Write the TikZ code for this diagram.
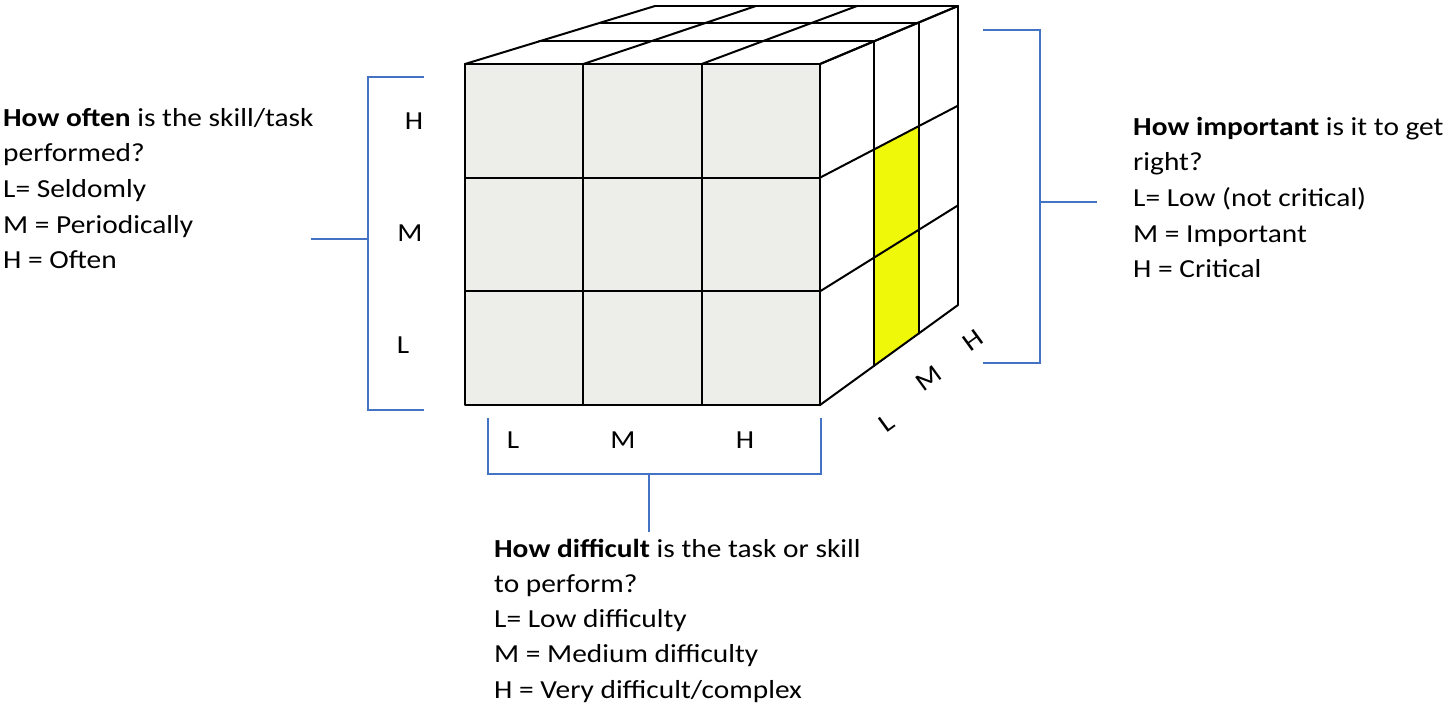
\documentclass[tikz,border=0pt]{standalone}
\usepackage{fontspec}
\setmainfont{Carlito}[FakeStretch=1.13]
\usetikzlibrary{calc}
\definecolor{facegray}{RGB}{237,237,233}
\definecolor{cellyellow}{RGB}{240,248,10}
\definecolor{brblue}{RGB}{68,114,196}
\tikzset{
  txt/.style={anchor=base west, inner sep=0pt, font=\fontsize{26}{31}\selectfont},
  lab/.style={inner sep=0pt, font=\fontsize{26}{31}\selectfont},
  grid/.style={line width=2pt, line cap=round, line join=round, black},
  bracket/.style={line width=1.4pt, brblue},
}
\begin{document}
\begin{tikzpicture}[x=1pt,y=-1pt]
\useasboundingbox (0,0) rectangle (1446,705);
% cube corners
\coordinate (FTL) at (465,64);
\coordinate (FTR) at (820,64);
\coordinate (FBL) at (465,405);
\coordinate (FBR) at (820,405);
\coordinate (BTL) at (655,6);
\coordinate (BTR) at (958,6);
\coordinate (BBR) at (958,305);
% top face grid T<depth><column>
\foreach \i/\t in {0/0,1/0.39,2/0.715,3/1}{
  \foreach \j/\s in {0/0,1/0.33333,2/0.66667,3/1}{
    \coordinate (Fa) at ($(FTL)!\s!(FTR)$);
    \coordinate (Ba) at ($(BTL)!\s!(BTR)$);
    \coordinate (T\i\j) at ($(Fa)!\t!(Ba)$);
  }
}
% right face grid R<depth><row>
\foreach \i/\t in {0/0,1/0.39,2/0.715,3/1}{
  \foreach \j/\s in {0/0,1/0.33333,2/0.66667,3/1}{
    \coordinate (Fb) at ($(FTR)!\s!(FBR)$);
    \coordinate (Bb) at ($(BTR)!\s!(BBR)$);
    \coordinate (R\i\j) at ($(Fb)!\t!(Bb)$);
  }
}
% fills
\fill[facegray] (FTL) rectangle (FBR);
\fill[white] (T00) -- (T03) -- (T33) -- (T30) -- cycle;
\fill[white] (R00) -- (R30) -- (R33) -- (R03) -- cycle;
\fill[cellyellow] (R11) -- (R21) -- (R23) -- (R13) -- cycle;
% front face grid
\foreach \s in {0.33333,0.66667}{
  \draw[grid] ($(FTL)!\s!(FTR)$) -- ($(FBL)!\s!(FBR)$);
  \draw[grid] ($(FTL)!\s!(FBL)$) -- ($(FTR)!\s!(FBR)$);
}
\draw[grid] (FTL) rectangle (FBR);
% top face grid
\foreach \i in {0,1,2,3}{ \draw[grid] (T\i0) -- (T\i3); }
\foreach \j in {0,1,2,3}{ \draw[grid] (T0\j) -- (T3\j); }
% right face grid
\foreach \i in {0,1,2,3}{ \draw[grid] (R\i0) -- (R\i3); }
\foreach \j in {0,1,2,3}{ \draw[grid] (R0\j) -- (R3\j); }
% left bracket
\coordinate (lb1) at (424,77); \coordinate (lb2) at (368,77);
\coordinate (lb3) at (368,410); \coordinate (lb4) at (424,410);
\coordinate (lbm) at (368,239); \coordinate (lbs) at (311,239);
\draw[bracket] (lb1) -- (lb2) -- (lb3) -- (lb4);
\draw[bracket] (lbm) -- (lbs);
% bottom bracket
\coordinate (bb1) at (488,418); \coordinate (bb2) at (488,474);
\coordinate (bb3) at (821,474); \coordinate (bb4) at (821,418);
\coordinate (bbm) at (649,474); \coordinate (bbs) at (649,532);
\draw[bracket] (bb1) -- (bb2) -- (bb3) -- (bb4);
\draw[bracket] (bbm) -- (bbs);
% right bracket
\coordinate (rb1) at (983,30); \coordinate (rb2) at (1040,30);
\coordinate (rb3) at (1040,363); \coordinate (rb4) at (983,363);
\coordinate (rbm) at (1040,202); \coordinate (rbs) at (1097,202);
\draw[bracket] (rb1) -- (rb2) -- (rb3) -- (rb4);
\draw[bracket] (rbm) -- (rbs);
% axis letters
\node[lab] (vH) at (414,121) {H};
\node[lab] (vM) at (410,233) {M};
\node[lab] (vL) at (403,345) {L};
\node[lab] (hL) at (513,440) {L};
\node[lab] (hM) at (623,440) {M};
\node[lab] (hH) at (745,440) {H};
\node[lab,rotate=36] (dL) at (887,423) {L};
\node[lab,rotate=36] (dM) at (929,378) {M};
\node[lab,rotate=36] (dH) at (973,340) {H};
% left text
\node[txt] (lt1) at (3,126) {\textbf{How often} is the skill/task};
\node[txt] (lt2) at (3,161.7) {performed?};
\node[txt] (lt3) at (3,197.4) {L= Seldomly};
\node[txt] (lt4) at (3,233.1) {M = Periodically};
\node[txt] (lt5) at (3,268.8) {H = Often};
% right text
\node[txt] (rt1) at (1133,135) {\textbf{How important} is it to get};
\node[txt] (rt2) at (1133,170.7) {right?};
\node[txt] (rt3) at (1133,206.4) {L= Low (not critical)};
\node[txt] (rt4) at (1133,242.1) {M = Important};
\node[txt] (rt5) at (1133,277.8) {H = Critical};
% bottom text
\node[txt] (bt1) at (494,557) {\textbf{How difficult} is the task or skill};
\node[txt] (bt2) at (494,592.25) {to perform?};
\node[txt] (bt3) at (494,627.5) {L= Low difficulty};
\node[txt] (bt4) at (494,662.75) {M = Medium difficulty};
\node[txt] (bt5) at (494,698) {H = Very difficult/complex};
\end{tikzpicture}
\end{document}
